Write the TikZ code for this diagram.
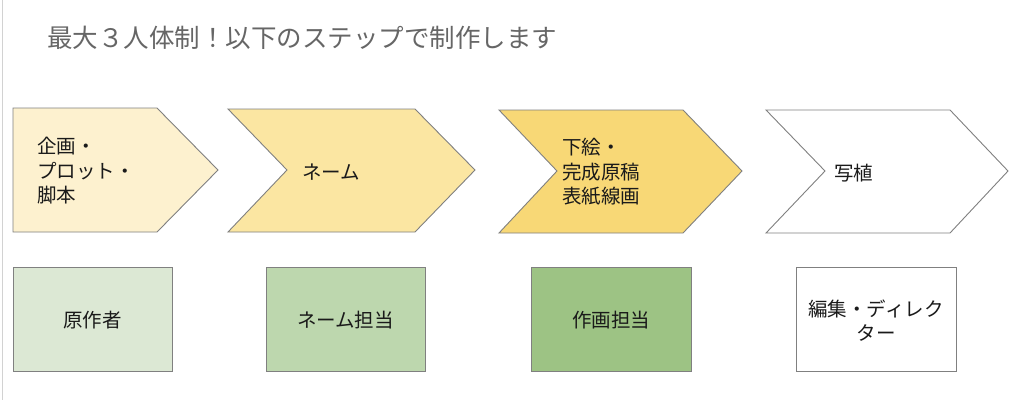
\documentclass[tikz,border=0pt]{standalone}
\usepackage{fontspec}
\newfontfamily\jp{Noto Sans CJK JP}
\definecolor{chevA}{HTML}{FDF1CF}
\definecolor{chevB}{HTML}{FBE6A2}
\definecolor{chevC}{HTML}{F8D876}
\definecolor{boxA}{HTML}{DCE8D4}
\definecolor{boxB}{HTML}{BDD7AE}
\definecolor{boxC}{HTML}{9DC384}
\definecolor{edge}{HTML}{808080}
\definecolor{titlegray}{HTML}{666666}
\definecolor{ink}{HTML}{1A1A1A}
\tikzset{
  chev/.style={draw=edge, line width=0.9pt, line join=miter},
  rolebox/.style={draw=edge, line width=0.9pt},
  lbl/.style={inner sep=0pt, text=ink, font=\jp\fontsize{19.5}{24.5}\selectfont, align=left, anchor=west},
  rolelbl/.style={inner sep=0pt, text=ink, font=\jp\fontsize{19.5}{24}\selectfont, align=center},
}
\begin{document}
\begin{tikzpicture}[x=1pt,y=-1pt]
\useasboundingbox (0,0) rectangle (1024,400);
\fill[white] (0,0) rectangle (1024,400);
\draw[gray!35, line width=1pt] (2,0) -- (2,400);
% title
\node[inner sep=0pt, anchor=west, text=titlegray, font=\jp\fontsize{25.5}{30}\selectfont] (title) at (47,38) {最大３人体制！以下のステップで制作します};
% chevrons
\filldraw[chev, fill=chevA] (13,108) -- (157,108) -- (218,170) -- (157,232) -- (13,232) -- cycle;
\filldraw[chev, fill=chevB] (228,109) -- (415,109) -- (475,170) -- (415,232) -- (228,232) -- (287,170) -- cycle;
\filldraw[chev, fill=chevC] (499,110) -- (683,110) -- (742,171) -- (683,233) -- (499,233) -- (557,171) -- cycle;
\filldraw[chev, fill=white] (766,110) -- (950,110) -- (1008,171) -- (950,233) -- (766,233) -- (825,171) -- cycle;
\node[lbl] (s1) at (37,171) {企画・\\プロット・\\脚本};
\node[lbl] (s2) at (302,172) {ネーム};
\node[lbl] (s3) at (562,172) {下絵・\\完成原稿\\表紙線画};
\node[lbl] (s4) at (834,173) {写植};
% role boxes
\filldraw[rolebox, fill=boxA] (13,267) rectangle (172,371);
\filldraw[rolebox, fill=boxB] (266,267) rectangle (425,371);
\filldraw[rolebox, fill=boxC] (531,267) rectangle (691,371);
\filldraw[rolebox, fill=white] (796,267) rectangle (956,371);
\node[rolelbl] (r1) at (92.5,320) {原作者};
\node[rolelbl] (r2) at (345.5,320) {ネーム担当};
\node[rolelbl] (r3) at (611,320) {作画担当};
\node[rolelbl] (r4) at (876,321) {編集・ディレク\\ター};
\end{tikzpicture}
\end{document}
